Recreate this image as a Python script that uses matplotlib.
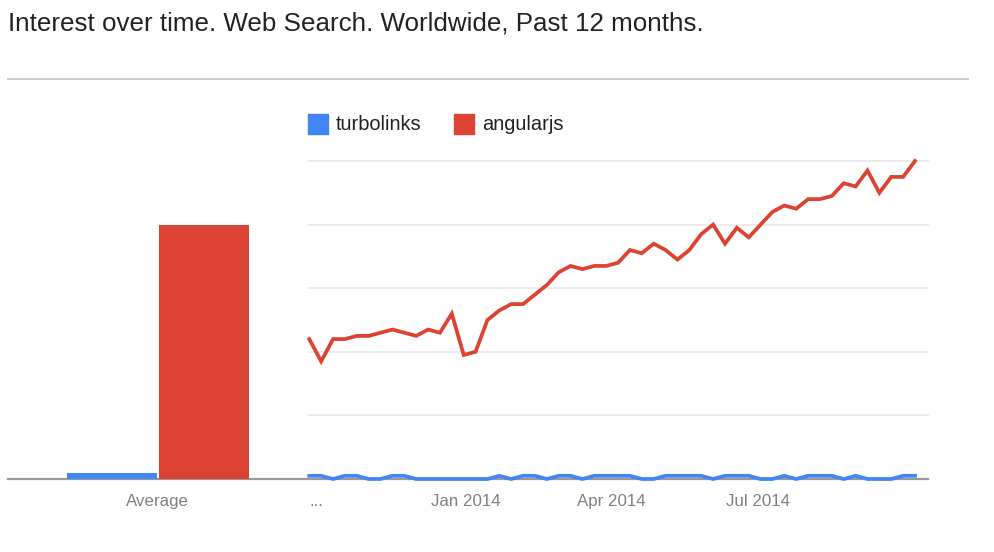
import matplotlib
matplotlib.use("Agg")
import matplotlib.pyplot as plt
from matplotlib.patches import Rectangle
from matplotlib.lines import Line2D
import numpy as np

plt.rcParams['font.family'] = ['Liberation Sans', 'DejaVu Sans']

# ---------------- data ----------------
title = "Interest over time. Web Search. Worldwide, Past 12 months."
series_names = ["turbolinks", "angularjs"]
series_colors = ["#4285f4", "#dc4332"]

turbolinks = [1, 1, 0, 1, 1, 0, 0, 1, 1, 0, 0, 0, 0, 0, 0, 0, 1, 0, 1, 1,
              0, 1, 1, 0, 1, 1, 1, 1, 0, 0, 1, 1, 1, 1, 0, 1, 1, 1, 0, 0,
              1, 0, 1, 1, 1, 0, 1, 0, 0, 0, 1, 1]
angularjs = [44, 37, 44, 44, 45, 45, 46, 47, 46, 45, 47, 46, 52, 39, 40, 50,
             53, 55, 55, 58, 61, 65, 67, 66, 67, 67, 68, 72, 71, 74, 72, 69,
             72, 77, 80, 74, 79, 76, 80, 84, 86, 85, 88, 88, 89, 93, 92, 97,
             90, 95, 95, 100]
averages = [2, 80]
avg_label = "Average"

tick_positions = [0.6, 13.2, 25.4, 37.8]
tick_labels = ["...", "Jan 2014", "Apr 2014", "Jul 2014"]
grid_values = [20, 40, 60, 80, 100]

# ---------------- layout ----------------
W, H = 994, 552
fig = plt.figure(figsize=(W / 100, H / 100), dpi=100)
fig.patch.set_facecolor("white")

def fx(px):
    return px / W

def fy(py):
    return 1 - py / H

base_y = 479
top_y = 161
# line chart axes
x0, x1 = 309.3, 928
ax = fig.add_axes([fx(x0), fy(base_y), fx(x1 - x0), (base_y - top_y) / H])
n = len(angularjs)
xs = np.arange(n)
px_per_unit = (915 - 309.3) / (n - 1)
ax.set_xlim(0, (x1 - x0) / px_per_unit)
ax.set_ylim(0, 100)
for g in grid_values:
    ax.axhline(g, color="#ebebeb", lw=1.4, zorder=0, clip_on=False)
ax.plot(xs, angularjs, color=series_colors[1], lw=2.7, solid_joinstyle="miter",
        clip_on=False, zorder=3)
ax.plot(xs, turbolinks, color=series_colors[0], lw=2.7, solid_joinstyle="miter",
        clip_on=False, zorder=4)
for s in ax.spines.values():
    s.set_visible(False)
ax.set_yticks([])
ax.set_xticks(tick_positions)
ax.set_xticklabels(tick_labels, fontsize=12.2, color="#808080")
ax.tick_params(axis="x", length=0, pad=11)
ax.patch.set_alpha(0)

# average bar axes
ax2 = fig.add_axes([fx(8), fy(base_y), fx(300), (base_y - top_y) / H])
s_px = 92.0
ax2.set_xlim(-(157.7 - 8) / s_px, (308 - 157.7) / s_px)
ax2.set_ylim(0, 100)
offsets = [-0.5, 0.5]
for off, v, c in zip(offsets, averages, series_colors):
    ax2.bar(off, v, width=0.98, color=c, zorder=2)
for s in ax2.spines.values():
    s.set_visible(False)
ax2.set_yticks([])
ax2.set_xticks([0])
ax2.set_xticklabels([avg_label], fontsize=12.2, color="#808080")
ax2.tick_params(axis="x", length=0, pad=11)
ax2.patch.set_alpha(0)

# baseline (drawn beneath the series)
fig.add_artist(Line2D([fx(8), fx(928)], [fy(base_y), fy(base_y)],
                      color="#999999", lw=1.6, zorder=-1))

# title and separator
fig.text(fx(8), fy(23), title, fontsize=18.7, color="#222222",
         ha="left", va="center")
fig.add_artist(Line2D([fx(8), fx(968)], [fy(78.5), fy(78.5)],
                      color="#cccccc", lw=1.5))

# legend
leg_items_x = [308, 454]
for lx, name, c in zip(leg_items_x, series_names, series_colors):
    fig.add_artist(Rectangle((fx(lx), fy(133.5)), fx(19.5), 19.5 / H,
                             transform=fig.transFigure, color=c))
    fig.text(fx(lx + 28), fy(124), name, fontsize=14.4, color="#222222",
             ha="left", va="center")

fig.savefig("out.png", dpi=100, facecolor="white")
